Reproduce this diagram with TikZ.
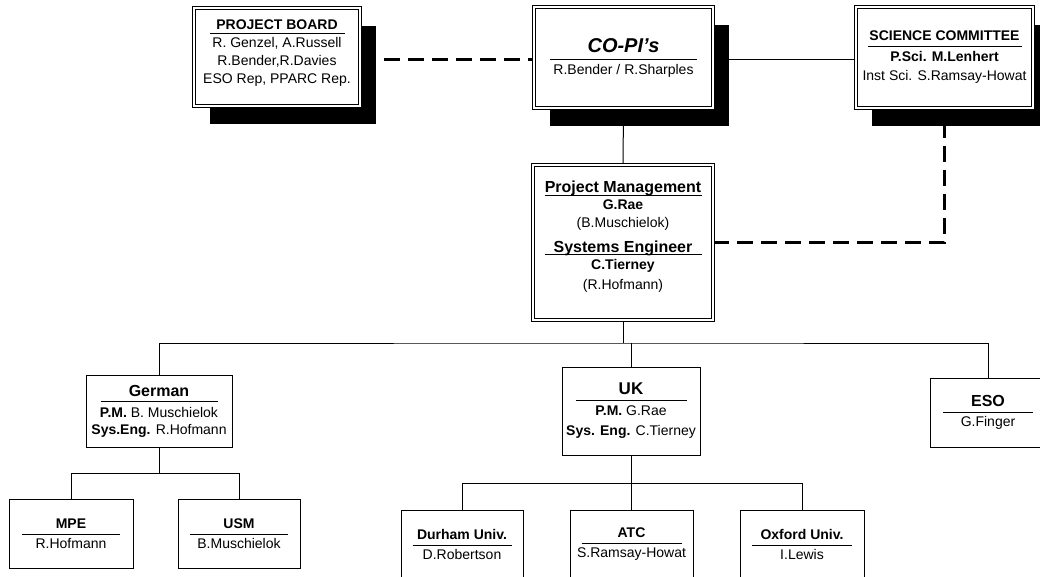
\documentclass[tikz,border=0pt]{standalone}
\usepackage{fontspec}
\setmainfont{Liberation Sans}
\usetikzlibrary{backgrounds,positioning,shadows}

% title with a rule of fixed width under it
\newcommand{\ttl}[3][6pt]{\makebox[#2]{#3}\llap{\smash{\rule[-#1]{#2}{1pt}}}}

\tikzset{
  topbox/.style={draw, double, double distance=2.5pt, line width=0.8pt, fill=white,
    align=center, inner sep=0pt, font=\fontsize{14}{18}\selectfont},
  boxshade/.style={drop shadow={shadow xshift=16pt, shadow yshift=-18pt, opacity=1, fill=black}},
  unitbox/.style={draw, line width=1pt, fill=white, align=center, inner sep=0pt,
    font=\fontsize{14}{18}\selectfont},
  leafbox/.style={unitbox, minimum height=68pt},
  link/.style={line width=1pt},
  dashlink/.style={line width=2.6pt, dash pattern=on 16pt off 8pt},
}

\begin{document}
\begin{tikzpicture}[x=1pt,y=-1pt]
    \useasboundingbox (0,0) rectangle (1040,576);
    \clip (0,0) rectangle (1040,576);

    % Top row
    \node[topbox, boxshade, minimum width=166pt, minimum height=98pt] (board) at (277,57)
        {\ttl[4pt]{135pt}{\bfseries PROJECT BOARD}\\R. Genzel, A.Russell\\R.Bender,R.Davies\\ESO Rep, PPARC Rep.\\[-8pt]\mbox{}};
    \node[topbox, boxshade, minimum width=179pt, minimum height=101pt] (copi) at (623.5,57.5)
        {\ttl[8pt]{147pt}{\fontsize{20}{18}\selectfont\bfseries\itshape CO-PI's}\\[4pt]R.Bender / R.Sharples};
    \node[topbox, boxshade, minimum width=177pt, minimum height=101pt] (sci) at (944.5,57.5)
        {\ttl{154pt}{\bfseries SCIENCE COMMITTEE}\\[3pt]\textbf{P.Sci. M.Lenhert}\\[1pt]Inst Sci. S.Ramsay-Howat};

    % Management
    \node[topbox, minimum width=180pt, minimum height=155pt] (pm) at (623,242.5)
        {\ttl[3pt]{157pt}{\fontsize{16}{18}\selectfont\bfseries Project Management}\\[-1pt]\textbf{G.Rae}\\(B.Muschielok)\\[7pt]%
         \ttl[2pt]{157pt}{\fontsize{16}{18}\selectfont\bfseries Systems Engineer}\\[-1pt]\textbf{C.Tierney}\\[2pt](R.Hofmann)\\[-4pt]\mbox{}};

    % Partners
    \node[unitbox, minimum width=146pt, minimum height=72pt] (ger) at (159,411)
        {\ttl{117pt}{\fontsize{16}{18}\selectfont\bfseries German}\\[3pt]\textbf{P.M.} B. Muschielok\\[-1pt]\textbf{Sys.Eng.} R.Hofmann};
    \node[unitbox, minimum width=138pt, minimum height=88pt] (uk) at (631,411)
        {\ttl{111pt}{\fontsize{17}{18}\selectfont\bfseries UK}\\[3pt]\textbf{P.M.} G.Rae\\[2pt]\textbf{Sys. Eng.} C.Tierney};
    \node[unitbox, minimum width=116pt, minimum height=69pt] (eso) at (988,412.5)
        {\ttl{90pt}{\fontsize{16}{18}\selectfont\bfseries ESO}\\[2pt]G.Finger};

    % Institutes
    \node[leafbox, minimum width=124pt, minimum height=69pt] (mpe) at (71,533.5)
        {\ttl[7pt]{98pt}{\bfseries MPE}\\[2pt]R.Hofmann};
    \node[leafbox, minimum width=122pt, minimum height=69pt] (usm) at (239,533.5)
        {\ttl[7pt]{98pt}{\bfseries USM}\\[2pt]B.Muschielok};
    \node[leafbox, minimum width=122pt] (dur) at (462,544)
        {\ttl[7pt]{99pt}{\bfseries Durham Univ.}\\[2pt]D.Robertson};
    \node[leafbox, minimum width=123pt] (atc) at (631.5,544)
        {\ttl[7pt]{100pt}{\bfseries ATC}\\[2pt]S.Ramsay-Howat};
    \node[leafbox, minimum width=124pt] (oxf) at (802,544)
        {\ttl[7pt]{100pt}{\bfseries Oxford Univ.}\\[2pt]I.Lewis};

    % Connectors
    \begin{scope}[on background layer]
        \draw[dashlink] ([yshift=-2.5pt]board.east) -- ([yshift=-2.5pt]board.east -| copi.west);
        \draw[link] ([yshift=-1.5pt]copi.east) -- ([yshift=-1.5pt]copi.east -| sci.west);
        \draw[link] (copi.south) -- (pm.north);
        \draw[dashlink] (pm.east) -| (sci.south);

        \coordinate (bus) at (623,343);
        \draw[link] (pm.south) -- (pm.south |- bus);
        \draw[link] (ger.north) |- (bus) -| (eso.north);
        \draw[link] (uk.north) -- (uk.north |- bus);

        \coordinate (gbus) at (159,473);
        \draw[link] (ger.south) -- (gbus);
        \draw[link] (mpe.north) |- (gbus) -| (usm.north);

        \coordinate (ukbus) at (631,483);
        \draw[link] (uk.south) -- (ukbus);
        \draw[link] (dur.north) |- (ukbus) -| (oxf.north);
        \draw[link] (atc.north) -- (atc.north |- ukbus);
    \end{scope}
\end{tikzpicture}
\end{document}
